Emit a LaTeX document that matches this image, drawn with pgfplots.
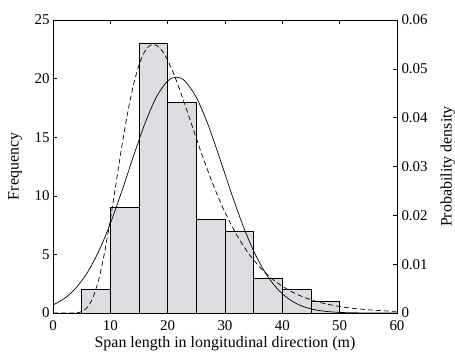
\documentclass[border=0pt]{standalone}
\usepackage{pgfplots}
\pgfplotsset{compat=1.18}
\usepackage{fontspec}
\setmainfont{Liberation Serif}
\definecolor{barfill}{RGB}{220,221,224}
\begin{document}
\begin{tikzpicture}
\pgfplotsset{every axis/.append style={scale only axis, width=344bp, height=293bp,
  xmin=0, xmax=60, tick align=inside, major tick length=4bp,
  tick style={black, line width=0.5pt},
  axis line style={line width=0.6pt},
  tick label style={font=\fontsize{15}{17}\selectfont},
  scaled y ticks=false,
  /pgf/number format/assume math mode=true}}
\begin{axis}[ymin=0, ymax=25, ytick={0,5,10,15,20,25}, xtick={0,10,20,30,40,50,60},
  ytick pos=left, xtick pos=both,
  xticklabel style={yshift=-4.5bp},
  xlabel={Span length in longitudinal direction (m)}, ylabel={Frequency},
  every axis y label/.style={at={(axis description cs:-0.11,0.5)}, anchor=center, rotate=90, font=\fontsize{16}{18}\selectfont},
  every axis x label/.style={at={(axis description cs:0.5,-0.106)}, anchor=center, font=\fontsize{16}{18}\selectfont}]
\addplot[ybar interval, fill=barfill, draw=black, line width=0.6pt] coordinates {
(5,2) (10,9) (15,23) (20,18) (25,8) (30,7) (35,3) (40,2) (45,1) (50,1)};
\end{axis}
\begin{axis}[ymin=0, ymax=0.06, axis y line*=right, axis x line=none,
  ytick={0,0.01,0.02,0.03,0.04,0.05,0.06},
  yticklabels={0,0.01,0.02,0.03,0.04,0.05,0.06},
  yticklabel style={xshift=1bp},
  ylabel={Probability density},
  every axis y label/.style={at={(axis description cs:1.148,0.5)}, anchor=center, rotate=90, font=\fontsize{16}{18}\selectfont}]
\addplot[black, line width=0.7pt, smooth] coordinates {
(0,0.001633) (2,0.002977) (4,0.005118) (6,0.008303) (8,0.012703) (10,0.018326)
(12,0.024930) (14,0.031984) (16,0.038696) (18,0.044153) (20,0.047510) (21.5,0.0483)
(23,0.047510) (25,0.044153) (27,0.038696) (29,0.031984) (31,0.024930) (33,0.018326)
(35,0.012703) (37,0.008303) (39,0.005118) (41,0.002977) (43,0.001633) (45,0.000844)
(47,0.000412) (49,0.000189) (51,0.000082) (53,0.0000336) (55,0.000013) (57,0.000004) (60,0)};
\addplot[black, line width=0.7pt, dash pattern=on 5bp off 3bp, smooth] coordinates {
(0,0) (2,0) (3,0.0000015) (4,0.0000356) (5,0.000277) (6,0.001157) (7,0.003246) (8,0.00698)
(9,0.01240) (10,0.01916) (11,0.02661) (12,0.03407) (13,0.04086) (14,0.04653) (15,0.05080)
(16,0.05355) (17,0.05485) (18,0.05486) (19,0.05375) (20,0.05178) (21,0.04915) (22,0.04607)
(23,0.04272) (24,0.03925) (25,0.03577) (26,0.03238) (27,0.02914) (28,0.02607) (29,0.02323)
(30,0.02061) (32,0.01607) (34,0.01239) (36,0.00949) (38,0.00722) (40,0.00547) (42,0.00414)
(44,0.00312) (46,0.00235) (48,0.00177) (50,0.00133) (52,0.00100) (54,0.000757) (56,0.000571)
(58,0.000432) (60,0.000327)};
\end{axis}
\pgfresetboundingbox
\path[use as bounding box] (-53bp,-41bp) rectangle (402bp,313bp);
\end{tikzpicture}
\end{document}
